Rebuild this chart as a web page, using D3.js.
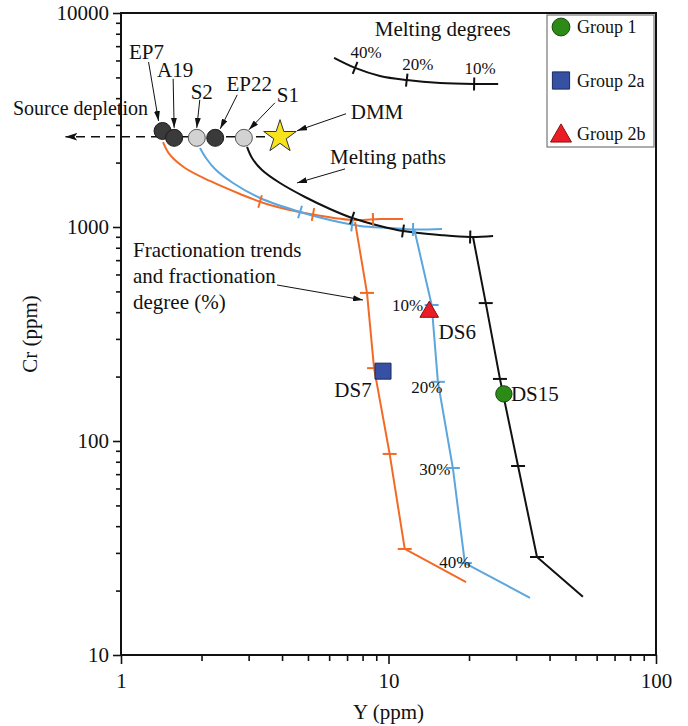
<!DOCTYPE html>
<meta charset="utf-8">
<html>
<head>
<style>
  body { margin: 0; background: #fff; }
  svg text { font-family: "Liberation Serif", "Times New Roman", serif; fill: #111; }
</style>
</head>
<body>
<svg width="688" height="726"></svg>
<script src="https://d3js.org/d3.v7.min.js"></script>
<script>

// source compositions (Y ppm, Cr ppm)
var sourceNames = ["EP7", "A19", "S2", "EP22", "S1"];
var sourceY = [1.43, 1.58, 1.92, 2.25, 2.88];
var sourceCr = [2810, 2610, 2610, 2610, 2610];
var sourceKind = ["dark", "dark", "light", "dark", "light"];
var dmm = [3.93, 2640];
var depletionTipY = 0.62;

// melting paths [Y, Cr]
var meltOrange = [[1.436,2494],[1.525,2170],[1.735,1887],[2.151,1641],[2.786,1427],[3.606,1267],[5.088,1150],[7.366,1078],[9.295,1090],[11.33,1090]];
var meltOrangeTicks = [[3.31,1316],[5.22,1144],[8.75,1085]];
var meltBlue = [[1.974,2340],[2.078,2101],[2.246,1866],[2.623,1605],[3.309,1366],[4.669,1175],[6.044,1078],[7.826,1011],[10.13,989],[12.35,973],[15.85,979]];
var meltBlueTicks = [[4.669,1175],[7.31,1022],[12.35,973]];
var meltBlack = [[2.96,2366],[3.089,2101],[3.366,1847],[3.93,1605],[4.874,1381],[6.044,1214],[7.31,1102],[9.295,1011],[11.33,958],[15.58,918],[20.2,898],[24.6,907]];
var meltBlackTicks = [[7.31,1102],[11.33,958],[20.2,898]];

// fractionation trends, ticks at points 1..4
var fracOrange = [[7.50,1054],[8.31,492],[8.83,219],[10.1,87],[11.5,31.3],[19.5,21.9]];
var fracBlue = [[12.5,968],[14.5,432],[15.3,189],[17.4,74.8],[19.3,26.9],[33.8,18.5]];
var fracBlack = [[20.7,898],[23.1,441],[26.1,195],[30.5,76.4],[35.9,28.7],[53.3,18.7]];
var fracLabels = ["10%", "20%", "30%", "40%"];

// melting degree scale at the top
var meltDegree = [[6.26,6170],[7.50,5540],[9.29,5080],[11.7,4860],[15.6,4710],[20.9,4660],[25.7,4660]];
var meltDegreeTicks = [[7.50,5540],[11.7,4860],[20.9,4660]];
var meltDegreeLabels = ["40%", "20%", "10%"];

// samples
var sampleNames = ["DS15", "DS7", "DS6"];
var sampleGroups = ["Group 1", "Group 2a", "Group 2b"];
var sampleY = [27.0, 9.54, 14.2];
var sampleCr = [166, 212, 401];
var groups = ["Group 1", "Group 2a", "Group 2b"];

var xMajor = [1, 10, 100];
var yMajor = [10, 100, 1000, 10000];

var orange = "#f26a25", blue = "#5ba6df", black = "#111";

var margin = {left: 121, top: 13, right: 32, bottom: 71};
var svg = d3.select("svg");
var width = 688 - margin.left - margin.right,
    height = 726 - margin.top - margin.bottom;

var x = d3.scaleLog().domain([1, 100]).range([0, width]);
var y = d3.scaleLog().domain([10, 10000]).range([height, 0]);

var defs = svg.append("defs");
defs.append("marker").attr("id", "arr")
    .attr("viewBox", "0 0 10 6").attr("refX", 10).attr("refY", 3)
    .attr("markerWidth", 10).attr("markerHeight", 6)
    .attr("markerUnits", "userSpaceOnUse").attr("orient", "auto")
  .append("path").attr("d", "M0,0L10,3L0,6z").attr("fill", "#111");
defs.append("marker").attr("id", "arrBig")
    .attr("viewBox", "0 0 12 8").attr("refX", 12).attr("refY", 4)
    .attr("markerWidth", 12).attr("markerHeight", 8)
    .attr("markerUnits", "userSpaceOnUse").attr("orient", "auto")
  .append("path").attr("d", "M0,0L12,4L0,8L3,4z").attr("fill", "#111");

var g = svg.append("g").attr("transform", "translate(" + margin.left + "," + margin.top + ")");

// axes
function minorTicks(lo, hi) {
  var t = [];
  for (var d = lo; d < hi; d *= 10)
    for (var k = 2; k <= 9; k++) t.push(d * k);
  return t;
}
g.append("g").attr("transform", "translate(0," + height + ")")
    .call(d3.axisBottom(x).tickValues(minorTicks(1, 100)).tickSize(6).tickSizeOuter(0).tickFormat(""));
g.append("g").attr("transform", "translate(0," + height + ")")
    .call(d3.axisBottom(x).tickValues(xMajor).tickSize(9).tickSizeOuter(0).tickPadding(9).tickFormat(d3.format("d")));
g.append("g")
    .call(d3.axisLeft(y).tickValues(minorTicks(10, 10000)).tickSize(5).tickSizeOuter(0).tickFormat(""));
g.append("g")
    .call(d3.axisLeft(y).tickValues(yMajor).tickSize(8).tickSizeOuter(0).tickPadding(4).tickFormat(d3.format("d")));
g.selectAll(".tick line").attr("stroke", "#111").attr("stroke-width", 1.6);
g.selectAll(".domain").remove();
g.selectAll(".tick text").attr("font-family", null)
    .style("font-family", "'Liberation Serif', serif").style("font-size", "21px").attr("fill", "#111");

g.append("rect").attr("width", width).attr("height", height)
    .attr("fill", "none").attr("stroke", "#111").attr("stroke-width", 2);

svg.append("text").attr("transform", "translate(30," + (margin.top + height / 2) + ") rotate(-90)")
    .attr("text-anchor", "middle").attr("dy", ".35em").style("font-size", "21px").text("Cr (ppm)");
svg.append("text").attr("x", margin.left + width / 2).attr("y", 712)
    .attr("text-anchor", "middle").attr("dy", ".35em").style("font-size", "21px").text("Y (ppm)");

var smooth = d3.line().x(function(d) { return x(d[0]); }).y(function(d) { return y(d[1]); }).curve(d3.curveCatmullRom.alpha(0.5));
var straight = d3.line().x(function(d) { return x(d[0]); }).y(function(d) { return y(d[1]); });

function perpTick(pts, p, len) {
  var P = pts.map(function(d) { return [x(d[0]), y(d[1])]; });
  var px = x(p[0]), py = y(p[1]);
  var k = 0, best = 1e9;
  P.forEach(function(q, i) { var dd = Math.hypot(q[0] - px, q[1] - py); if (dd < best) { best = dd; k = i; } });
  var a = P[Math.max(k - 1, 0)], b = P[Math.min(k + 1, P.length - 1)];
  var dx = b[0] - a[0], dy = b[1] - a[1], L = Math.hypot(dx, dy);
  var nx = -dy / L, ny = dx / L;
  return [px - nx * len / 2, py - ny * len / 2, px + nx * len / 2, py + ny * len / 2];
}

function drawPerpTicks(pts, ticks, color, len) {
  g.append("g").selectAll("line").data(ticks).enter().append("line")
    .each(function(d) {
      var t = perpTick(pts, d, len);
      d3.select(this).attr("x1", t[0]).attr("y1", t[1]).attr("x2", t[2]).attr("y2", t[3]);
    })
    .attr("stroke", color).attr("stroke-width", 2);
}

function drawFracTicks(pts, color) {
  g.append("g").selectAll("line").data(pts.slice(1, 5)).enter().append("line")
    .attr("x1", function(d) { return x(d[0]) - 7; })
    .attr("x2", function(d) { return x(d[0]) + 7; })
    .attr("y1", function(d) { return y(d[1]); })
    .attr("y2", function(d) { return y(d[1]); })
    .attr("stroke", color).attr("stroke-width", 2);
}

// source depletion dashed arrow
g.append("line")
    .attr("x1", x(dmm[0])).attr("y1", y(dmm[1]))
    .attr("x2", x(depletionTipY)).attr("y2", y(dmm[1]))
    .attr("stroke", "#111").attr("stroke-width", 1.6).attr("stroke-dasharray", "9,6")
    .attr("marker-end", "url(#arrBig)");
g.append("text").attr("x", x(depletionTipY) + 15).attr("y", y(dmm[1]) - 29)
    .attr("text-anchor", "middle").attr("dy", ".35em").style("font-size", "20px").text("Source depletion");

// melting paths
[[meltOrange, orange], [meltBlue, blue], [meltBlack, black]].forEach(function(m) {
  g.append("path").attr("d", smooth(m[0])).attr("fill", "none").attr("stroke", m[1]).attr("stroke-width", 2);
});
[[fracOrange, orange], [fracBlue, blue], [fracBlack, black]].forEach(function(m) {
  g.append("path").attr("d", straight(m[0])).attr("fill", "none").attr("stroke", m[1]).attr("stroke-width", 2);
  drawFracTicks(m[0], m[1]);
});
drawPerpTicks(meltOrange, meltOrangeTicks, orange, 13);
drawPerpTicks(meltBlue, meltBlueTicks, blue, 13);
drawPerpTicks(meltBlack, meltBlackTicks, black, 13);

// fractionation degree labels on blue trend
var fracLabelOff = [[-24, 0], [-11, 5], [-18, 1], [-10, -1]];
g.append("g").selectAll("text").data(fracBlue.slice(1, 5)).enter().append("text")
    .attr("x", function(d, i) { return x(d[0]) + fracLabelOff[i][0]; })
    .attr("y", function(d, i) { return y(d[1]) + fracLabelOff[i][1]; })
    .attr("text-anchor", "middle").attr("dy", ".35em").style("font-size", "17px")
    .text(function(d, i) { return fracLabels[i]; });

// melting degree scale
g.append("path").attr("d", smooth(meltDegree)).attr("fill", "none").attr("stroke", black).attr("stroke-width", 2);
drawPerpTicks(meltDegree, meltDegreeTicks, black, 13);
g.append("g").selectAll("text").data(meltDegreeTicks).enter().append("text")
    .attr("x", function(d, i) { return x(d[0]) + (i == 2 ? 6 : 11); })
    .attr("y", function(d) { return y(d[1]) - 16; })
    .attr("text-anchor", "middle").attr("dy", ".35em").style("font-size", "17px")
    .text(function(d, i) { return meltDegreeLabels[i]; });
g.append("text").attr("x", x(meltDegreeTicks[1][0]) + 36).attr("y", y(meltDegreeTicks[1][1]) - 51)
    .attr("text-anchor", "middle").attr("dy", ".35em").style("font-size", "21px").text("Melting degrees");

// annotations with arrows
function note(px, py, lines, tx, ty, ax, ay, bx, by, anchor) {
  var t = g.append("text").attr("x", px + tx).attr("y", py + ty)
      .attr("text-anchor", anchor || "middle").style("font-size", "21px");
  lines.forEach(function(s, i) {
    t.append("tspan").attr("x", px + tx).attr("dy", i == 0 ? ".35em" : "1.22em").text(s);
  });
  g.append("line").attr("x1", px + ax).attr("y1", py + ay).attr("x2", px + bx).attr("y2", py + by)
      .attr("stroke", "#111").attr("stroke-width", 1).attr("marker-end", "url(#arr)");
}

var srcLabelOff = {
  EP7: [-16, -79, -14, -69, -4, -10],
  A19: [1, -68, -1, -59, 0, -10],
  S2: [5, -46, 3, -38, 0, -10],
  EP22: [34, -54, 22, -43, 5, -9],
  S1: [44, -43, 31, -35, 5, -8]
};
sourceNames.forEach(function(n, i) {
  var o = srcLabelOff[n];
  note(x(sourceY[i]), y(sourceCr[i]), [n], o[0], o[1], o[2], o[3], o[4], o[5]);
});
note(x(dmm[0]), y(dmm[1]), ["DMM"], 97, -25, 66, -23, 17, -6);
note(x(4.55), y(1607), ["Melting paths"], 91, -26, 48, -14, 0, 0);
note(x(8.03), y(456), ["Fractionation trends", "and fractionation", "degree (%)"], -230, -50, -86, -15, 0, 0, "start");

// source points
g.append("g").selectAll("circle").data(sourceNames).enter().append("circle")
    .attr("cx", function(d, i) { return x(sourceY[i]); })
    .attr("cy", function(d, i) { return y(sourceCr[i]); })
    .attr("r", 8.5)
    .attr("fill", function(d, i) { return sourceKind[i] == "dark" ? "#3a3a3a" : "#d2d2d2"; })
    .attr("stroke", function(d, i) { return sourceKind[i] == "dark" ? "#1a1a1a" : "#555"; })
    .attr("stroke-width", 1);
g.append("path").attr("transform", "translate(" + x(dmm[0]) + "," + y(dmm[1]) + ")")
    .attr("d", d3.symbol().type(d3.symbolStar).size(330)())
    .attr("fill", "#f7e21b").attr("stroke", "#333").attr("stroke-width", 1);

// samples
var symbolFor = { "Group 1": d3.symbolCircle, "Group 2a": d3.symbolSquare, "Group 2b": d3.symbolTriangle };
var fillFor = { "Group 1": "#2c8a17", "Group 2a": "#3651a3", "Group 2b": "#ea1d25" };
var strokeFor = { "Group 1": "#1b4a0e", "Group 2a": "#1c2a5c", "Group 2b": "#8a1010" };
var sizeFor = { "Group 1": 210, "Group 2a": 256, "Group 2b": 150 };
g.append("g").selectAll("path").data(sampleNames).enter().append("path")
    .attr("transform", function(d, i) { return "translate(" + x(sampleY[i]) + "," + y(sampleCr[i]) + ")"; })
    .attr("d", function(d, i) { return d3.symbol().type(symbolFor[sampleGroups[i]]).size(sizeFor[sampleGroups[i]])(); })
    .attr("fill", function(d, i) { return fillFor[sampleGroups[i]]; })
    .attr("stroke", function(d, i) { return strokeFor[sampleGroups[i]]; });
var sampleOff = { DS15: [31, 0], DS7: [-30, 18], DS6: [28, 20] };
g.append("g").selectAll("text").data(sampleNames).enter().append("text")
    .attr("x", function(d, i) { return x(sampleY[i]) + sampleOff[d][0]; })
    .attr("y", function(d, i) { return y(sampleCr[i]) + sampleOff[d][1]; })
    .attr("text-anchor", "middle").attr("dy", ".35em").style("font-size", "21px")
    .text(function(d) { return d; });

// legend
var leg = svg.append("g").attr("transform", "translate(547,15)");
leg.append("rect").attr("width", 107).attr("height", 132)
    .attr("fill", "#fff").attr("stroke", "#777").attr("stroke-width", 1.2);
groups.forEach(function(gr, i) {
  var cy = 12 + i * 53.5;
  leg.append("path").attr("transform", "translate(14," + (cy + (i == 2 ? 2 : 0)) + ")")
      .attr("d", d3.symbol().type(symbolFor[gr]).size(i == 2 ? 190 : sizeFor[gr] + 40)())
      .attr("fill", fillFor[gr]).attr("stroke", strokeFor[gr]);
  leg.append("text").attr("x", 30).attr("y", cy).attr("dy", ".35em")
      .style("font-size", "18px").text(gr);
});

</script>
</body>
</html>
